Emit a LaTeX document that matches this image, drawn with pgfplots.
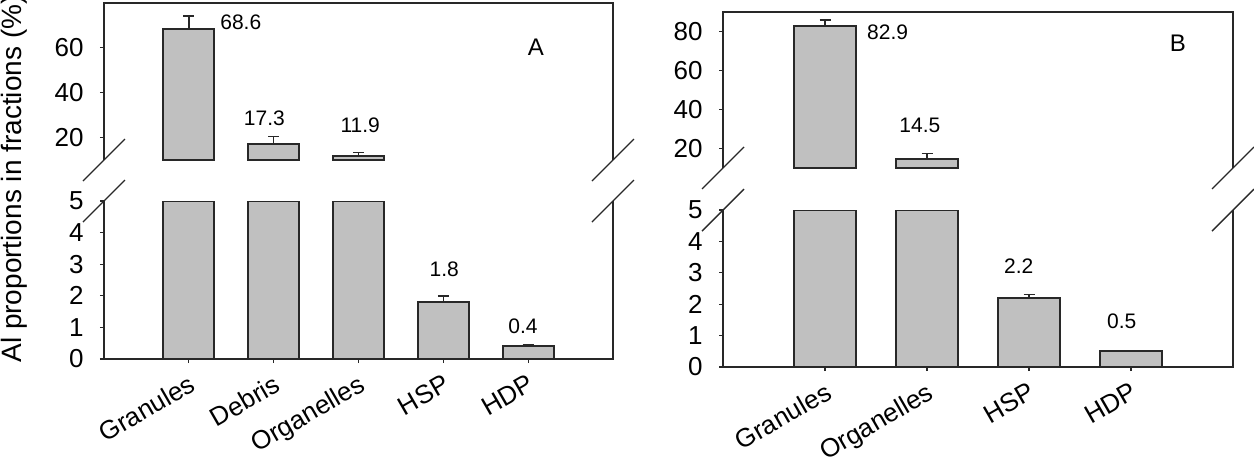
\documentclass[border=0pt]{standalone}
\usepackage{pgfplots}
\pgfplotsset{compat=1.18}
\usepackage{pgfplotstable}
\usepackage{fontspec}
\setmainfont{Liberation Sans}

\definecolor{barfill}{RGB}{192,192,192}
\definecolor{frame}{RGB}{40,40,40}

% fraction, mean, error (panel A)
\pgfplotstableread{
x v e
1 68.6 5.6
2 17.3 3.1
3 11.9 1.4
4 1.8 0.2
5 0.4 0.05
}\dataA
% panel B
\pgfplotstableread{
x v e
1 82.9 2.9
2 14.5 2.9
3 2.2 0.1
4 0.5 0.03
}\dataB

\pgfplotsset{
  brk/.style={
    scale only axis,
    clip mode=individual,
    axis line style={draw=none},
    tick align=outside,
    major tick length=2pt,
    tick style={frame, line width=0.6pt},
    ytick pos=left, xtick pos=bottom,
    ybar, bar width=0.6,
    /pgf/number format/assume math mode=true,
    yticklabel style={font=\fontsize{13pt}{15pt}\selectfont, inner sep=0pt, xshift=-8pt},
    xticklabel style={font=\fontsize{13pt}{15pt}\selectfont, inner sep=0pt,
      xshift=-0.5pt, yshift=-5pt, rotate=30, anchor=north east},
  },
  bars/.style={draw=frame, fill=barfill, line width=1pt,
    error bars/.cd, y dir=plus, y explicit,
    error bar style={frame, line width=0.7pt},
    error mark options={rotate=90, frame, line width=0.7pt, mark size=2.75pt}},
}
\tikzset{fr/.style={frame, line width=0.7pt}}
\newcommand\vlab{\fontsize{10.5pt}{12pt}\selectfont}

\begin{document}
\begin{tikzpicture}
\path[use as bounding box] (0,0) rectangle (627pt,234pt);

% ---------- panel A, upper part ----------
\begin{axis}[brk, at={(52pt,154pt)}, anchor=south west,
  width=254.5pt, height=78.5pt,
  xmin=0, xmax=6, ymin=0, ymax=70,
  xtick=\empty, ytick={10,30,50}, yticklabels={20,40,60},
  y filter/.expression={y-10}]
  \addplot[bars] table[x=x, y=v, y error=e, skip coords between index={3}{5}] {\dataA};
  \draw[fr] (rel axis cs:0,0) -- (rel axis cs:0,1) -- (rel axis cs:1,1) -- (rel axis cs:1,0);
  \draw[fr] ([shift={(-10.5pt,-10.5pt)}]rel axis cs:0,0) -- ([shift={(10.5pt,10.5pt)}]rel axis cs:0,0);
  \draw[fr] ([shift={(-10.5pt,-10.5pt)}]rel axis cs:1,0) -- ([shift={(10.5pt,10.5pt)}]rel axis cs:1,0);
  \node[font=\vlab, anchor=west, inner sep=0pt] at (axis cs:1.367,61.5) {68.6};
  \node[font=\vlab, inner sep=0pt] at (axis cs:1.89,18.7) {17.3};
  \node[font=\vlab, inner sep=0pt] at (axis cs:3.02,15.6) {11.9};
  \node[font=\fontsize{12pt}{14pt}\selectfont, inner sep=0pt] at (axis cs:5.09,50.4) {A};
\end{axis}

% ---------- panel A, lower part ----------
\begin{axis}[brk, at={(52pt,54.5pt)}, anchor=south west,
  width=254.5pt, height=79pt,
  xmin=0, xmax=6, ymin=0, ymax=5,
  xtick={1,2,3,4,5}, xticklabels={Granules,Debris,Organelles,HSP,HDP},
  ytick={0,1,2,3,4,5},
  y filter/.expression={min(y,5)}]
  \addplot[bars] table[x=x, y=v, y error=e] {\dataA};
  \draw[fr] (rel axis cs:0,1) -- (rel axis cs:0,0) -- (rel axis cs:1,0) -- (rel axis cs:1,1);
  \draw[fr] ([shift={(-10.5pt,-10.5pt)}]rel axis cs:0,1) -- ([shift={(10.5pt,10.5pt)}]rel axis cs:0,1);
  \draw[fr] ([shift={(-10.5pt,-10.5pt)}]rel axis cs:1,1) -- ([shift={(10.5pt,10.5pt)}]rel axis cs:1,1);
  \node[font=\vlab, inner sep=0pt] at (axis cs:4.01,2.85) {1.8};
  \node[font=\vlab, inner sep=0pt] at (axis cs:4.94,1.04) {0.4};
\end{axis}

% ---------- panel B, upper part ----------
\begin{axis}[brk, at={(361.5pt,150pt)}, anchor=south west,
  width=255pt, height=78pt,
  xmin=0, xmax=5, ymin=0, ymax=80,
  xtick=\empty, ytick={10,30,50,70}, yticklabels={20,40,60,80},
  y filter/.expression={y-10}]
  \addplot[bars] table[x=x, y=v, y error=e, skip coords between index={2}{4}] {\dataB};
  \draw[fr] (rel axis cs:0,0) -- (rel axis cs:0,1) -- (rel axis cs:1,1) -- (rel axis cs:1,0);
  \draw[fr] ([shift={(-10.5pt,-10.5pt)}]rel axis cs:0,0) -- ([shift={(10.5pt,10.5pt)}]rel axis cs:0,0);
  \draw[fr] ([shift={(-10.5pt,-10.5pt)}]rel axis cs:1,0) -- ([shift={(10.5pt,10.5pt)}]rel axis cs:1,0);
  \node[font=\vlab, anchor=west, inner sep=0pt] at (axis cs:1.41,69.7) {82.9};
  \node[font=\vlab, inner sep=0pt] at (axis cs:1.93,22.1) {14.5};
  \node[font=\fontsize{12pt}{14pt}\selectfont, inner sep=0pt] at (axis cs:4.46,64.1) {B};
\end{axis}

% ---------- panel B, lower part ----------
\begin{axis}[brk, at={(361.5pt,50.5pt)}, anchor=south west,
  width=255pt, height=78.5pt,
  xmin=0, xmax=5, ymin=0, ymax=5,
  xtick={1,2,3,4}, xticklabels={Granules,Organelles,HSP,HDP},
  ytick={0,1,2,3,4,5},
  y filter/.expression={min(y,5)}]
  \addplot[bars] table[x=x, y=v, y error=e] {\dataB};
  \draw[fr] (rel axis cs:0,1) -- (rel axis cs:0,0) -- (rel axis cs:1,0) -- (rel axis cs:1,1);
  \draw[fr] ([shift={(-10.5pt,-10.5pt)}]rel axis cs:0,1) -- ([shift={(10.5pt,10.5pt)}]rel axis cs:0,1);
  \draw[fr] ([shift={(-10.5pt,-10.5pt)}]rel axis cs:1,1) -- ([shift={(10.5pt,10.5pt)}]rel axis cs:1,1);
  \node[font=\vlab, inner sep=0pt] at (axis cs:2.90,3.22) {2.2};
  \node[font=\vlab, inner sep=0pt] at (axis cs:3.91,1.46) {0.5};
\end{axis}

\node[rotate=90, anchor=base west, inner sep=0pt, font=\fontsize{14pt}{16pt}\selectfont]
  at (10.5pt,52.5pt) {Al proportions in fractions (\%)};
\end{tikzpicture}
\end{document}
